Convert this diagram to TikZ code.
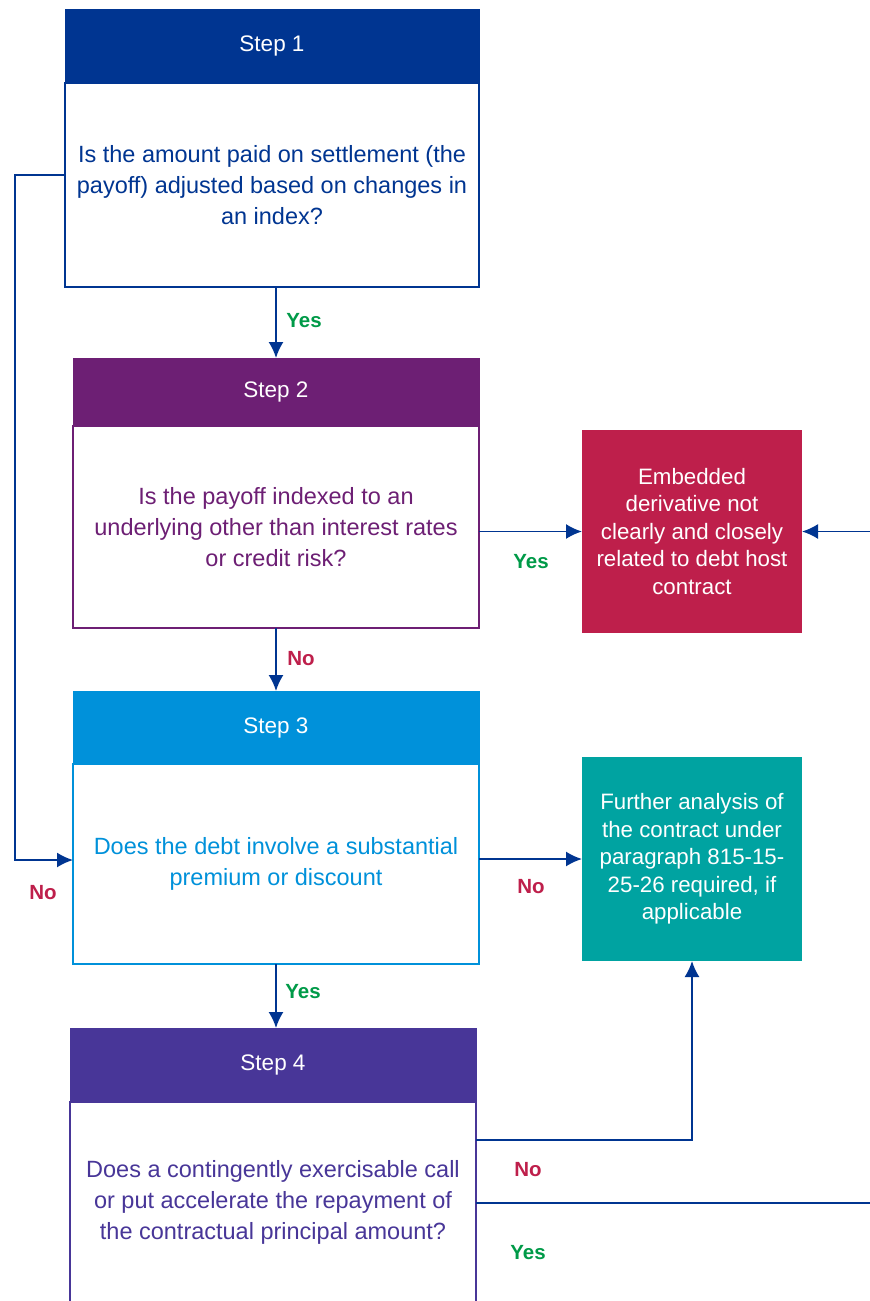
\documentclass[tikz,border=0pt]{standalone}
\usepackage{fontspec}
\setmainfont{Liberation Sans}
\usepackage{tikz}
\usetikzlibrary{arrows.meta,positioning}
\definecolor{stepone}{HTML}{003591}
\definecolor{steptwo}{HTML}{6D1F74}
\definecolor{stepthree}{HTML}{0091DA}
\definecolor{stepfour}{HTML}{483698}
\definecolor{outred}{HTML}{BE1F4B}
\definecolor{outteal}{HTML}{00A3A1}
\definecolor{yesgreen}{HTML}{009A48}
\tikzset{
  flow-head/.style={draw, minimum width=406pt, inner sep=0pt, outer sep=0pt, line width=1pt,
    text=white, font=\fontsize{22.5}{27}\selectfont},
  flow-body/.style={draw, fill=white, minimum width=406pt, inner sep=0pt, outer sep=0pt, line width=1.5pt,
    align=center, font=\fontsize{23.5}{31}\selectfont},
  flow-result/.style={minimum width=220pt, inner sep=0pt, outer sep=0pt,
    align=center, text=white, font=\fontsize{22.3}{27.5}\selectfont},
  flow-link/.style={draw=stepone, line width=1.8pt},
  flow-arrow/.style={flow-link, -{Latex[length=16pt, width=15pt]}},
  flow-yes/.style={text=yesgreen, font=\bfseries\fontsize{20.5}{22}\selectfont},
  flow-no/.style={text=outred, font=\bfseries\fontsize{20.5}{22}\selectfont}
}

\begin{document}
\begin{tikzpicture}[x=1pt, y=-1pt]
  \useasboundingbox (0,0) rectangle (870,1301);

  % Step 1
  \node[flow-head, draw=stepone, fill=stepone, minimum width=414pt, minimum height=74pt] (step1head) at (272,46) {Step 1};
  \node[flow-body, draw=stepone, text=stepone, minimum width=414pt, minimum height=204pt, below=0pt of step1head] (step1body)
    {Is the amount paid on settlement (the\\payoff) adjusted based on changes in\\an index?};

  % Step 2
  \node[flow-head, draw=steptwo, fill=steptwo, minimum height=68pt] (step2head) at (276,392) {Step 2};
  \node[flow-body, draw=steptwo, text=steptwo, minimum height=202pt, below=0pt of step2head] (step2body)
    {Is the payoff indexed to an\\underlying other than interest rates\\or credit risk?};

  % Step 3
  \node[flow-head, draw=stepthree, fill=stepthree, minimum height=73pt] (step3head) at (276,727.5) {Step 3};
  \node[flow-body, draw=stepthree, text=stepthree, minimum height=200pt, below=0pt of step3head] (step3body)
    {Does the debt involve a substantial\\premium or discount};

  % Step 4 (runs off the bottom)
  \node[flow-head, draw=stepfour, fill=stepfour, minimum height=74pt] (step4head) at (273,1065) {Step 4};
  \node[flow-body, draw=stepfour, text=stepfour, minimum height=200pt, below=0pt of step4head] (step4body)
    {Does a contingently exercisable call\\or put accelerate the repayment of\\the contractual principal amount?};

  % Outcomes
  \node[flow-result, fill=outred, minimum height=203pt] (result-red) at (692,531.5)
    {Embedded\\derivative not\\clearly and closely\\related to debt host\\contract};
  \node[flow-result, fill=outteal, minimum height=204pt] (result-teal) at (692,859)
    {Further analysis of\\the contract under\\paragraph 815-15-\\25-26 required, if\\applicable};

  % Step 1 -> Step 2
  \draw[flow-arrow] (step1body.south -| step2head.north) -- (step2head.north);
  \node[flow-yes] (yes1) at (304,321) {Yes};

  % Step 1 -> Step 3 (left loop)
  \coordinate (loop-top) at (15,175);
  \coordinate (loop-bot) at (15,860);
  \draw[flow-arrow] (step1body.west |- loop-top) -- (loop-top) -- (loop-bot) -- (step3body.west |- loop-bot);
  \node[flow-no] (no1) at (43,893) {No};

  % Step 2 -> red
  \draw[flow-arrow] (step2body.east |- result-red.west) -- (result-red.west);
  \node[flow-yes] (yes2) at (531,562) {Yes};

  % Step 2 -> Step 3
  \draw[flow-arrow] (step2body.south -| step3head.north) -- (step3head.north);
  \node[flow-no] (no2) at (301,659) {No};

  % Step 3 -> teal
  \draw[flow-arrow] (step3body.east |- result-teal.west) -- (result-teal.west);
  \node[flow-no] (no3) at (531,887) {No};

  % Step 3 -> Step 4
  \draw[flow-arrow] (step3body.south) -- (step4head.north -| step3body.south);
  \node[flow-yes] (yes3) at (303,992) {Yes};

  % Step 4 -> teal
  \coordinate (four-no) at (476,1140);
  \draw[flow-arrow] (step4body.east |- four-no) -| (result-teal.south);
  \node[flow-no] (no4) at (528,1170) {No};

  % Step 4 -> red, round the right edge
  \coordinate (edge-low) at (870,1203);
  \coordinate (edge-high) at (870,531.5);
  \draw[flow-link] (step4body.east |- edge-low) -- (edge-low);
  \draw[flow-arrow] (edge-high) -- (result-red.east);
  \node[flow-yes] (yes4) at (528,1253) {Yes};
\end{tikzpicture}
\end{document}
